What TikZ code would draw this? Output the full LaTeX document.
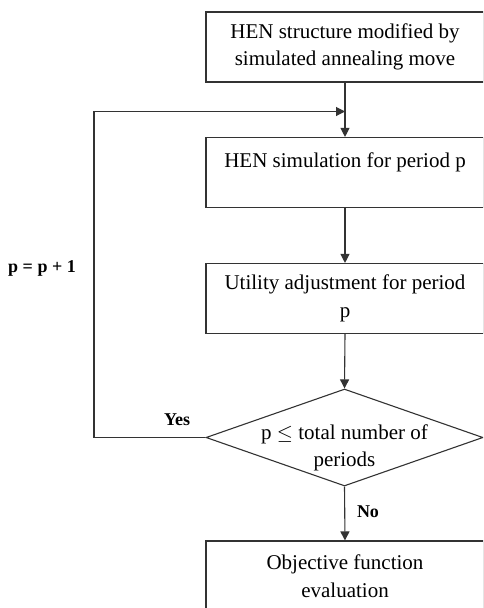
\documentclass[tikz,border=0pt]{standalone}
\usepackage{fontspec}
\setmainfont{Liberation Serif}
\usetikzlibrary{shapes.geometric,arrows.meta}
\begin{document}
\begin{tikzpicture}[x=1pt,y=-1pt,
  procbox/.style={draw=black!80, line width=1.1pt, rectangle, minimum width=278pt, minimum height=70pt, inner sep=0pt, align=center, font=\fontsize{21}{27.5}\selectfont},
  decbox/.style={draw=black!80, line width=1.1pt, diamond, minimum width=277pt, minimum height=97pt, inner sep=0pt},
  bodytext/.style={align=center, font=\fontsize{21}{27}\selectfont, inner sep=0pt},
  tag/.style={font=\fontsize{18}{21}\selectfont\bfseries, inner sep=0pt},
  plainline/.style={draw=black!80, line width=1.1pt},
  flow/.style={draw=black!80, line width=1.1pt, -{Triangle[length=9pt,width=9pt]}}]
\clip (0,0) rectangle (483,608);
\fill[white] (0,0) rectangle (483,608);

\node[procbox] (b1) at (345,47) {HEN structure modified by\\simulated annealing move};
\node[procbox] (b2) at (345,172.5) {};
\node[bodytext] (b2t) at (345,162) {HEN simulation for period p};
\node[procbox] (b3) at (345,298.5) {Utility adjustment for period\\p};
\node[decbox] (d) at (344.5,437.5) {};
\node[bodytext] (dt) at (344.5,448) {p $\leq$ total number of\\periods};
\node[procbox] (b4) at (345,576) {Objective function\\evaluation};

\coordinate (j) at (b1.south |- 0,111.5);
\coordinate (fl) at (94,437.5);
\coordinate (ft) at (94,111.5);

\draw[plainline] (b1.south) -- (j);
\draw[flow] (j) -- (b2.north);
\draw[flow] (b2.south) -- (b3.north);
\draw[flow] (b3.south) -- (d.north);
\draw[flow] (d.south) -- (b4.north);
\draw[flow] (d.west) -- (fl) -- (ft) -- (j);

\node[tag] (yes) at (177,420) {Yes};
\node[tag] (no) at (368,512) {No};
\node[tag] (inc) at (42,268) {p = p + 1};
\end{tikzpicture}
\end{document}
